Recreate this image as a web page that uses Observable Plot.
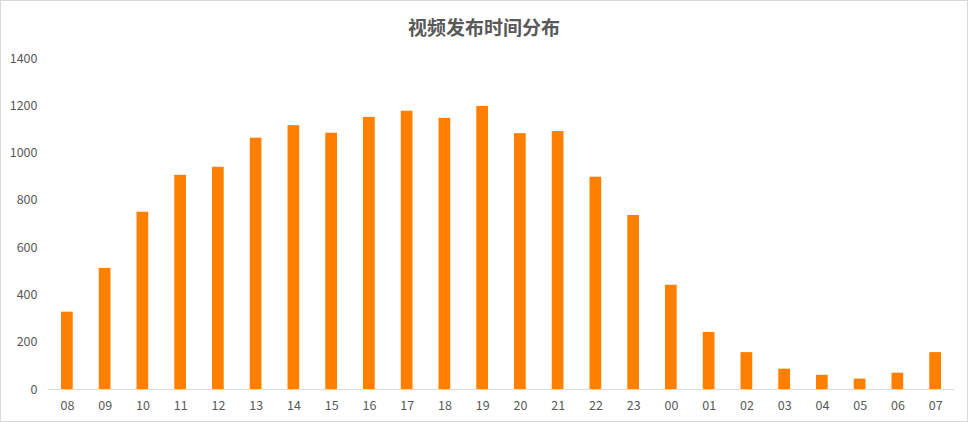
<!DOCTYPE html>
<html>
<head>
<meta charset="utf-8">
<script src="https://cdn.jsdelivr.net/npm/d3@7"></script>
<script src="https://cdn.jsdelivr.net/npm/@observablehq/plot@0.6"></script>
<style>
  html, body { margin: 0; padding: 0; background: #fff; }
  #wrap { width: 968px; height: 422px; box-sizing: border-box; border: 1px solid #d9d9d9; background: #fff; }
  #title { height: 44px; line-height: 52px; text-align: center; font-family: "Noto Sans CJK SC", sans-serif; font-weight: bold; font-size: 19px; color: #595959; }
</style>
</head>
<body>
<div id="wrap">
  <div id="title">视频发布时间分布</div>
  <div id="chart"></div>
</div>
<script>
const hours = ["08","09","10","11","12","13","14","15","16","17","18","19","20","21","22","23","00","01","02","03","04","05","06","07"];
const counts = [327,512,750,906,940,1063,1116,1084,1151,1177,1147,1197,1082,1091,898,736,441,241,156,86,60,44,69,156];
const yTicks = [0,200,400,600,800,1000,1200,1400];

const data = hours.map((h, i) => ({hour: h, count: counts[i]}));

const chart = Plot.plot({
  width: 966,
  height: 376,
  marginLeft: 47,
  marginRight: 13,
  marginTop: 13,
  marginBottom: 32,
  style: {fontFamily: "'Noto Sans CJK SC', sans-serif", fontSize: "12.5px", color: "#595959", background: "#fff"},
  x: {domain: hours, paddingInner: 0.69, paddingOuter: 0.345, round: false, label: null},
  y: {domain: [0, 1400], ticks: yTicks, label: null},
  marks: [
    Plot.barY(data, {x: "hour", y: "count", fill: "#ff7f00"}),
    Plot.ruleY([0], {stroke: "#d9d9d9", strokeWidth: 1}),
    Plot.axisX({tickSize: 0, tickPadding: 12, label: null, fill: "#595959"}),
    Plot.axisY({ticks: yTicks, tickFormat: d3.format("d"), tickSize: 0, tickPadding: 11, label: null, fill: "#595959"})
  ]
});
document.getElementById("chart").appendChild(chart);
</script>
</body>
</html>
